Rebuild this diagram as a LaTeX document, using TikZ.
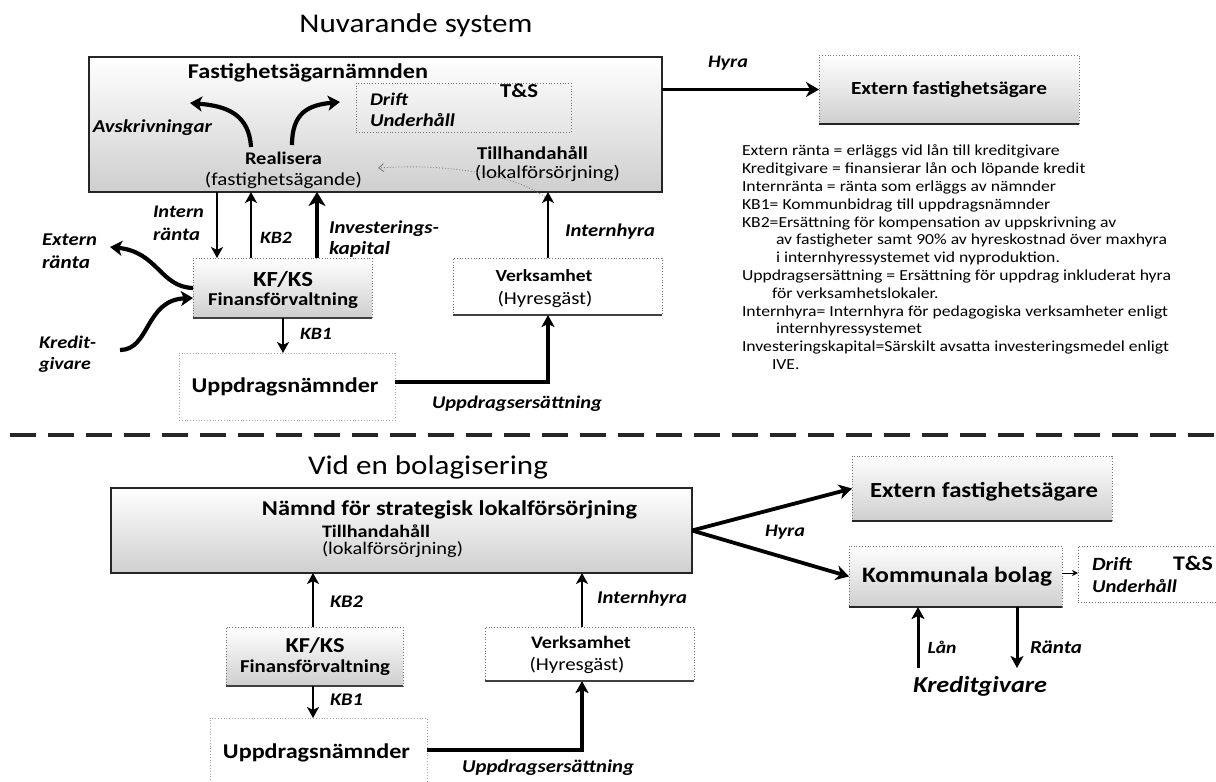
\documentclass[tikz,border=0pt]{standalone}
\usepackage{fontspec}
\usepackage{graphicx}
\setmainfont{Carlito}[FakeStretch=1.15]
\usetikzlibrary{arrows.meta}
\newcommand{\sz}[2]{\fontsize{#1}{#2}\selectfont}
\newcommand{\tw}[2]{\resizebox{#1pt}{!}{#2}}
\newlength\legw
\tikzset{
  every node/.style={inner sep=0pt, outer sep=0pt},
  ttl/.style={font=\sz{27}{32}},
  lab/.style={font=\sz{18}{21}\bfseries\itshape},
  bl/.style={font=\sz{18}{21}\bfseries},
  rg/.style={font=\sz{18}{21}},
  solidbox/.style={draw=black!85, line width=1.2pt, top color=white, bottom color=black!19},
  dotbox/.style={draw=black!55, dotted, line width=0.8pt},
  shadebox/.style={dotbox, top color=white, bottom color=black!19},
  btm/.style={line width=2.4pt, black!85},
  btmthin/.style={line width=1.3pt, black!75},
  arrm/.style={line width=2.4pt, -{Stealth[length=11pt,width=12pt,inset=3pt]}},
  arrt/.style={line width=4.5pt, -{Stealth[length=14pt,width=17pt,inset=4pt]}},
  arrh/.style={line width=3.8pt, -{Stealth[length=13pt,width=15pt,inset=4pt]}},
  arrc/.style={line width=4.2pt, -{Stealth[length=12pt,width=15pt,inset=3pt]}},
  arrb/.style={line width=3.5pt, -{Stealth[length=12pt,width=13pt,inset=3pt]}},
  arrs/.style={line width=1pt, -{Stealth[length=6pt,width=6pt]}},
  faint/.style={draw=gray, dotted, line width=0.9pt, -{Straight Barb[length=5pt,width=8pt]}},
  sep/.style={line width=4pt, black!85, dash pattern=on 26pt off 12pt}
}
\begin{document}
\settowidth\legw{\sz{10}{12}Uppdragsersättning = Ersättning för uppdrag inkluderat hyra}%
\pgfmathsetmacro\legfs{10*429/\legw}%
\begin{tikzpicture}[x=1pt,y=-1pt]
\useasboundingbox (0,0) rectangle (1216,782);

% ================= TOP: Nuvarande system =================
\node[ttl] (title1) at (416,25) {\tw{233}{Nuvarande system}};

\node[solidbox, minimum width=573pt, minimum height=135pt] (box1) at (375.5,124.5) {};
\draw[btm] (box1.south west) -- (box1.south east);
\node[dotbox, minimum width=215pt, minimum height=49pt] (ts1) at (463.5,107.5) {};

\node[bl] (fan) at (308,73) {\tw{240}{Fastighetsägarnämnden}};
\node[lab] (drift1) at (389,99) {\tw{38}{Drift}};
\node[lab] (uh1) at (412.5,120) {\tw{85}{Underhåll}};
\node[bl] (tands1) at (519,91) {\tw{38}{T\&S}};
\node[lab] (avskr) at (152.5,128) {\tw{119}{Avskrivningar}};
\node[bl] (realisera) at (283.5,158) {\tw{77}{Realisera}};
\node[rg] (fagande) at (283.5,180) {\tw{157}{(fastighetsägande)}};
\node[bl] (tillh1) at (532.5,153) {\tw{111}{Tillhandahåll}};
\node[rg] (lokal1) at (547.5,173) {\tw{145}{(lokalförsörjning)}};

\coordinate (avt) at (251,147);
\coordinate (avh) at (190,103);
\coordinate (rdt) at (292,145);
\coordinate (rdh) at (340,102);
\draw[arrc] (avt) .. controls (249,115) and (228,106) .. (avh);
\draw[arrc] (rdt) .. controls (292,113) and (308,105) .. (rdh);

% Extern fastighetsägare (top)
\node[shadebox, minimum width=260pt, minimum height=69pt] (ext1) at (949,89.5) {};
\draw[btm] (ext1.south west) -- (ext1.south east);
\node[bl] (ext1t) at (ext1) {\tw{196}{Extern fastighetsägare}};
\draw[arrh] (box1.east |- ext1.west) -- (ext1.west);
\node[lab] (hyra1) at (728,63) {\tw{40}{Hyra}};

% legend
\node[font=\fontsize{\legfs}{17.8}\selectfont, align=left, anchor=north west] (legend) at (742,145) {Extern ränta = erläggs vid lån till kreditgivare\\
Kreditgivare = finansierar lån och löpande kredit\\
Internränta = ränta som erläggs av nämnder\\
KB1= Kommunbidrag till uppdragsnämnder\\
KB2=Ersättning för kompensation av uppskrivning av\\
\hspace*{34pt}av fastigheter samt 90\% av hyreskostnad över maxhyra\\
\hspace*{34pt}i internhyressystemet vid nyproduktion.\\
Uppdragsersättning = Ersättning för uppdrag inkluderat hyra\\
\hspace*{30pt}för verksamhetslokaler.\\
Internhyra= Internhyra för pedagogiska verksamheter enligt\\
\hspace*{34pt}internhyressystemet\\
Investeringskapital=Särskilt avsatta investeringsmedel enligt\\
\hspace*{30pt}IVE.};

% KF/KS (top)
\node[shadebox, minimum width=179pt, minimum height=60pt] (kf1) at (282.5,288) {};
\draw[btmthin] (kf1.south west) -- (kf1.south east);
\node[bl] (kf1a) at (283,279) {\tw{60}{KF/KS}};
\node[bl] (kf1b) at (283,301) {\tw{150}{Finansförvaltning}};

% Verksamhet (top)
\node[dotbox, fill=white, minimum width=209pt, minimum height=57pt] (vh1) at (557.5,286.5) {};
\draw[btmthin] (vh1.south west) -- (vh1.south east);
\node[bl] (vh1a) at (544,276) {\tw{97}{Verksamhet}};
\node[rg] (vh1b) at (545,299) {\tw{95}{(Hyresgäst)}};

% Uppdragsnämnder (top)
\node[dotbox, draw=black!35, fill=white, minimum width=216pt, minimum height=67pt] (up1) at (287,386.5) {};
\node[bl] (up1t) at (285,387) {\tw{187}{Uppdragsnämnder}};

% arrows between box1 and KF/KS
\draw[arrm] (box1.south -| 217,0) -- (kf1.north -| 217,0);
\draw[arrm] (kf1.north -| 251,0) -- (box1.south -| 251,0);
\draw[arrt] (kf1.north -| 317,0) -- (box1.south -| 317,0);
\draw[arrm] (vh1.north -| 548,0) -- (box1.south -| 548,0);
\draw[arrm] (kf1.south -| 283,0) -- (up1.north -| 283,0);
\draw[arrb] (up1.east |- 0,382) -- (548,382) -- (vh1.south -| 548,0);

\draw[faint] (545,197) .. controls (515,176) and (455,163) .. (378,168);

\node[lab, anchor=west] (irl1) at (153,212) {\tw{51}{Intern}};
\node[lab, anchor=west] (irl2) at (153,234) {\tw{47}{ränta}};
\node[lab] (kb2a) at (276,238) {\tw{32}{KB2}};
\node[lab, anchor=west] (invl1) at (329,229) {\tw{110}{Investerings-}};
\node[lab, anchor=west] (invl2) at (329,249) {\tw{61}{kapital}};
\node[lab] (ihyra1) at (610,232) {\tw{90}{Internhyra}};
\node[lab] (kb1a) at (316,334) {\tw{32}{KB1}};
\node[lab] (upers1) at (517,404) {\tw{170}{Uppdragsersättning}};

% Extern ränta / Kreditgivare curves
\node[lab, anchor=west] (erl1) at (42,240) {\tw{55}{Extern}};
\node[lab, anchor=west] (erl2) at (42,262) {\tw{48}{ränta}};
\node[lab, anchor=west] (kgl1) at (39,342) {\tw{57}{Kredit-}};
\node[lab, anchor=west] (kgl2) at (39,365) {\tw{52}{givare}};
\coordinate (erh) at (110,247);
\coordinate (kgt) at (120,350);
\draw[arrc] (kf1.west) .. controls (160,287) and (158,252) .. (erh);
\draw[arrc] (kgt) .. controls (150,350) and (145,300) .. (kf1.west |- 0,298);

% separator
\draw[sep] (10,435) -- (1216,435);

% ================= BOTTOM: Vid en bolagisering =================
\node[ttl] (title2) at (428,467) {\tw{240}{Vid en bolagisering}};

\node[solidbox, minimum width=581pt, minimum height=85pt] (namnd) at (401.5,530.5) {};
\draw[btm] (namnd.south west) -- (namnd.south east);
\node[bl] (namndt) at (449.5,510) {\tw{375}{Nämnd för strategisk lokalförsörjning}};
\node[bl, anchor=west] (tillh2) at (322,531) {\tw{108}{Tillhandahåll}};
\node[rg, anchor=west] (lokal2) at (322,550) {\tw{141}{(lokalförsörjning)}};

\node[shadebox, minimum width=177pt, minimum height=59pt] (kf2) at (314.5,656.5) {};
\draw[btmthin] (kf2.south west) -- (kf2.south east);
\node[bl] (kf2a) at (315,646) {\tw{59}{KF/KS}};
\node[bl] (kf2b) at (315,668) {\tw{150}{Finansförvaltning}};

\node[dotbox, fill=white, minimum width=209pt, minimum height=54pt] (vh2) at (589.5,654) {};
\draw[btmthin] (vh2.south west) -- (vh2.south east);
\node[bl] (vh2a) at (581,642) {\tw{100}{Verksamhet}};
\node[rg] (vh2b) at (577,665) {\tw{95}{(Hyresgäst)}};

\node[dotbox, draw=black!35, fill=white, minimum width=217pt, minimum height=90pt] (up2) at (318.5,763) {};
\node[bl] (up2t) at (316.5,753) {\tw{187}{Uppdragsnämnder}};

\draw[arrm] (kf2.north -| 313,0) -- (namnd.south -| 313,0);
\draw[arrm] (kf2.south -| 313,0) -- (up2.north -| 313,0);
\draw[arrm] (vh2.north -| 582,0) -- (namnd.south -| 582,0);
\draw[arrb] (up2.east |- 0,750) -- (582,750) -- (vh2.south -| 582,0);

\node[lab] (kb2b) at (346.5,602) {\tw{33}{KB2}};
\node[lab] (kb1b) at (346.5,700) {\tw{33}{KB1}};
\node[lab] (ihyra2) at (642,599) {\tw{90}{Internhyra}};
\node[lab] (upers2) at (548,768) {\tw{172}{Uppdragsersättning}};

% right side
\node[shadebox, minimum width=260pt, minimum height=65pt] (ext2) at (982,488.5) {};
\draw[btm] (ext2.south west) -- (ext2.south east);
\node[bl] (ext2t) at (984,492) {\tw{228}{Extern fastighetsägare}};

\node[shadebox, minimum width=213pt, minimum height=61pt] (komm) at (955.5,576.5) {};
\draw[btm] (komm.south west) -- (komm.south east);
\node[bl] (kommt) at (957,577) {\tw{190}{Kommunala bolag}};

\node[dotbox, minimum width=138pt, minimum height=56pt] (ts2) at (1147,574) {};
\node[lab] (drift2) at (1112,564) {\tw{40}{Drift}};
\node[lab] (uh2) at (1134.5,586) {\tw{85}{Underhåll}};
\node[bl] (tands2) at (1193,563) {\tw{40}{T\&S}};

\draw[arrh] (namnd.east) -- (ext2.west);
\draw[arrh] (namnd.east) -- (komm.west);
\node[lab] (hyra2) at (785,532) {\tw{40}{Hyra}};
\draw[arrs] (komm.east |- 0,573) -- (ts2.west |- 0,573);

\node[lab] (kred) at (980,686) {\tw{134}{Kreditgivare}};
\coordinate (lant) at (918,668);
\coordinate (rah) at (1017,668);
\draw[line width=3pt, -{Stealth[length=12pt,width=13pt,inset=3pt]}] (lant) -- (komm.south -| lant);
\draw[line width=3pt, -{Stealth[length=12pt,width=13pt,inset=3pt]}] (komm.south -| rah) -- (rah);
\node[lab] (lan) at (942,647) {\tw{29}{Lån}};
\node[lab] (ranta) at (1056,647) {\tw{52}{Ränta}};

\end{tikzpicture}
\end{document}
